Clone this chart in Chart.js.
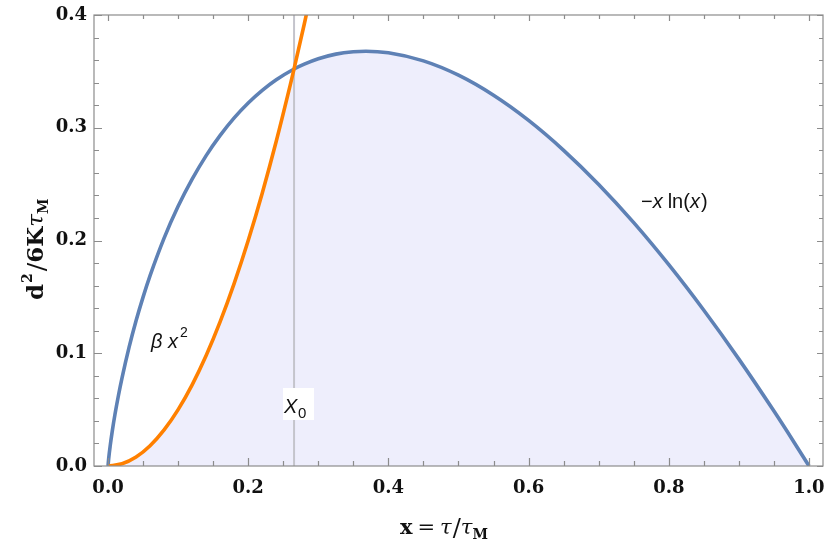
<!DOCTYPE html>
<html><head><meta charset="utf-8">
<script src="https://cdn.jsdelivr.net/npm/chart.js@4.4.0/dist/chart.umd.min.js"></script>
<style>html,body{margin:0;padding:0;background:#fff}#wrap{width:830px;height:556px}</style>
</head><body><div id="wrap"><canvas id="c" width="830" height="556"></canvas></div>
<script>
// ---- data ----
const blueX = [0,0.001,0.003,0.006,0.01,0.015,0.02,0.03,0.04,0.05,0.06,0.08,0.1,0.12,0.14,0.16,0.18,0.2,0.22,0.24,0.2654,0.28,0.3,0.325,0.35,0.3679,0.4,0.45,0.5,0.55,0.6,0.65,0.7,0.75,0.8,0.85,0.9,0.95,0.98,1.0];
const blueY = [0,0.0069,0.0174,0.0307,0.0461,0.0630,0.0782,0.1052,0.1288,0.1498,0.1688,0.2021,0.2303,0.2544,0.2753,0.2932,0.3087,0.3219,0.3331,0.3425,0.3521,0.3564,0.3612,0.3653,0.3674,0.3679,0.3665,0.3593,0.3466,0.3288,0.3065,0.2800,0.2497,0.2158,0.1785,0.1381,0.0948,0.0487,0.0198,0];
const orangeX = [0,0.02,0.04,0.06,0.08,0.1,0.12,0.14,0.16,0.18,0.2,0.22,0.24,0.26,0.2654,0.28,0.29];
const orangeY = [0,0.002,0.008,0.018,0.032,0.05,0.072,0.098,0.128,0.162,0.2,0.242,0.288,0.338,0.3522,0.392,0.4205];
const X0 = 0.2654;
const xTicks = [0,0.2,0.4,0.6,0.8,1.0];
const xTickLabels = ['0.0','0.2','0.4','0.6','0.8','1.0'];
const yTicks = [0,0.1,0.2,0.3,0.4];
const yTickLabels = ['0.0','0.1','0.2','0.3','0.4'];
const xMinorStep = 0.05, yMinorStep = 0.02;

const pts = (xs, ys) => xs.map((x,i)=>({x, y: ys[i]}));
// lower envelope (shaded region)
const fillPts = [];
orangeX.forEach((x,i)=>{ if (x <= X0) fillPts.push({x, y: orangeY[i]}); });
blueX.forEach((x,i)=>{ if (x > X0) fillPts.push({x, y: blueY[i]}); });

const frameColor = '#8c8c8c';
const serif = '"DejaVu Serif","Liberation Serif",serif';
const sans = '"Liberation Sans","DejaVu Sans",sans-serif';

const decor = {
  id: 'decor',
  afterDraw(chart) {
    const ctx = chart.ctx, a = chart.chartArea;
    const xs = chart.scales.x, ys = chart.scales.y;
    ctx.save();
    // frame
    ctx.strokeStyle = frameColor; ctx.lineWidth = 1.2;
    ctx.strokeRect(a.left, a.top, a.right - a.left, a.bottom - a.top);
    // ticks
    ctx.beginPath();
    for (let v = 0; v <= 1.0001; v += xMinorStep) {
      const px = Math.round(xs.getPixelForValue(v)) + 0.5;
      const major = Math.abs(v*5 - Math.round(v*5)) < 1e-6;
      const L = major ? 8 : 5;
      ctx.moveTo(px, a.bottom); ctx.lineTo(px, a.bottom - L);
      ctx.moveTo(px, a.top); ctx.lineTo(px, a.top + (major ? 6 : 4));
    }
    for (let v = 0; v <= 0.4001; v += yMinorStep) {
      const py = Math.round(ys.getPixelForValue(v)) + 0.5;
      const major = Math.abs(v*10 - Math.round(v*10)) < 1e-6;
      const L = major ? 8 : 5;
      ctx.moveTo(a.left, py); ctx.lineTo(a.left + L, py);
      ctx.moveTo(a.right, py); ctx.lineTo(a.right - (major ? 6 : 4), py);
    }
    ctx.stroke();
    // tick labels
    ctx.fillStyle = '#111';
    ctx.font = 'bold 18px ' + serif;
    ctx.textAlign = 'center'; ctx.textBaseline = 'middle';
    xTicks.forEach((v,i)=> ctx.fillText(xTickLabels[i], xs.getPixelForValue(v), a.bottom + 22));
    ctx.textAlign = 'right';
    yTicks.forEach((v,i)=> ctx.fillText(yTickLabels[i], a.left - 7, ys.getPixelForValue(v)));

    // x axis title: x = τ/τ_M
    ctx.textAlign = 'left'; ctx.textBaseline = 'alphabetic';
    let x = 400, y = 534;
    ctx.font = 'bold 21px ' + serif; ctx.fillText('x', x, y); x += ctx.measureText('x').width + 5;
    ctx.font = '21px ' + serif; ctx.fillText('=', x, y); x += ctx.measureText('=').width + 5;
    ctx.font = 'italic 21px ' + serif; ctx.fillText('τ', x, y); x += ctx.measureText('τ').width + 1;
    ctx.font = '24px ' + serif; ctx.fillText('/', x, y + 2); x += ctx.measureText('/').width;
    ctx.font = 'italic 21px ' + serif; ctx.fillText('τ', x, y); x += ctx.measureText('τ').width;
    ctx.font = 'bold 14px ' + serif; ctx.fillText('M', x, y + 5);

    // y axis title: d²/6Kτ_M (rotated)
    ctx.save();
    ctx.translate(43, 300); ctx.rotate(-Math.PI/2);
    x = 0; y = 0;
    ctx.font = 'bold 23px ' + serif; ctx.fillText('d', x, y); x += ctx.measureText('d').width;
    ctx.font = 'bold 14px ' + serif; ctx.fillText('2', x + 1, y - 11); x += ctx.measureText('2').width + 3;
    ctx.font = '25px ' + serif; ctx.fillText('/', x, y + 2); x += ctx.measureText('/').width;
    ctx.font = 'bold 23px ' + serif; ctx.fillText('6K', x, y); x += ctx.measureText('6K').width;
    ctx.font = 'italic 23px ' + serif; ctx.fillText('τ', x, y); x += ctx.measureText('τ').width;
    ctx.font = 'bold 14px ' + serif; ctx.fillText('M', x, y + 5);
    ctx.restore();

    // curve labels
    ctx.fillStyle = '#111';
    ctx.textBaseline = 'alphabetic';
    x = 641; y = 208;
    ctx.font = '20px ' + sans; ctx.fillText('−', x, y); x += ctx.measureText('−').width;
    ctx.font = 'italic 20px ' + sans; ctx.fillText('x', x, y); x += ctx.measureText('x').width + 5;
    ctx.font = '20px ' + sans; ctx.fillText('ln(', x, y); x += ctx.measureText('ln(').width;
    ctx.font = 'italic 20px ' + sans; ctx.fillText('x', x, y); x += ctx.measureText('x').width + 1;
    ctx.font = '20px ' + sans; ctx.fillText(')', x, y);

    ctx.font = 'italic 20px ' + sans;
    ctx.fillText('β', 151, 348);
    ctx.fillText('x', 168, 348);
    ctx.font = '14px ' + sans; ctx.fillText('2', 180, 337);

    // X0 label with white box
    const bx = xs.getPixelForValue(X0);
    ctx.fillStyle = '#fff';
    ctx.fillRect(bx - 11, 388, 31, 32);
    ctx.fillStyle = '#111';
    ctx.font = 'italic 20px ' + sans; ctx.fillText('X', bx - 10, 413);
    ctx.font = '15px ' + sans; ctx.fillText('0', bx + 4, 418);
    ctx.restore();
  }
};

new Chart(document.getElementById('c'), {
  type: 'scatter',
  data: { datasets: [
    { data: fillPts, showLine: true, borderWidth: 0, borderColor: 'rgba(0,0,0,0)', backgroundColor: 'rgba(238,238,252,1)', fill: 'origin', pointRadius: 0, cubicInterpolationMode: 'monotone', order: 5 },
    { data: [{x: X0, y: 0}, {x: X0, y: 0.4}], showLine: true, borderColor: '#c4c4cc', borderWidth: 2, pointRadius: 0, fill: false, order: 4 },
    { data: pts(blueX, blueY), showLine: true, borderColor: '#5e81b5', borderWidth: 3.6, pointRadius: 0, fill: false, cubicInterpolationMode: 'monotone', order: 2 },
    { data: pts(orangeX, orangeY), showLine: true, borderColor: '#ff8000', borderWidth: 3.6, pointRadius: 0, fill: false, cubicInterpolationMode: 'monotone', order: 1 }
  ]},
  options: {
    responsive: false, animation: false,
    layout: { padding: { left: 94, top: 15, right: 7, bottom: 90 } },
    plugins: { legend: { display: false }, tooltip: { enabled: false } },
    scales: {
      x: { type: 'linear', min: -0.02, max: 1.02, display: false },
      y: { type: 'linear', min: 0, max: 0.4, display: false }
    }
  },
  plugins: [decor]
});
</script></body></html>
